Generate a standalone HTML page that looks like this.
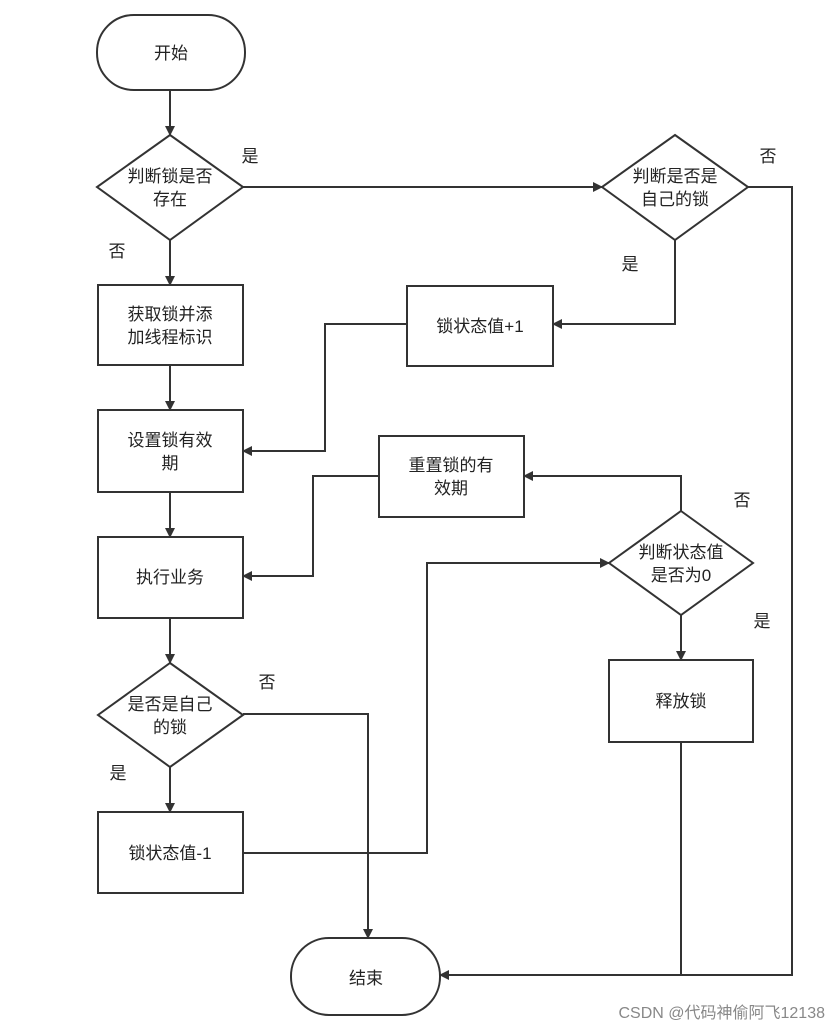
<!DOCTYPE html>
<html><head><meta charset="utf-8"><style>
body{margin:0;background:#fff}
svg text{font-family:"Liberation Sans","Noto Sans CJK SC",sans-serif;font-size:17px;fill:#222}
</style></head><body>
<svg width="840" height="1031" viewBox="0 0 840 1031" xmlns="http://www.w3.org/2000/svg">
<defs><marker id="a" markerWidth="10" markerHeight="10" refX="9" refY="5" orient="auto" markerUnits="userSpaceOnUse"><path d="M0,0 L10,5 L0,10 z" fill="#333"/></marker></defs>
<g fill="#fff" stroke="#333" stroke-width="2">
<rect x="97" y="15" width="148" height="75" rx="37"/>
<rect x="291" y="938" width="149" height="77" rx="38"/>
<polygon points="170,135 243,187 170,240 97,187"/>
<polygon points="675,135 748,187 675,240 602,187"/>
<polygon points="681,511 753,563 681,615 609,563"/>
<polygon points="170,663 243,715 170,767 98,715"/>
<rect x="98" y="285" width="145" height="80"/>
<rect x="407" y="286" width="146" height="80"/>
<rect x="98" y="410" width="145" height="82"/>
<rect x="379" y="436" width="145" height="81"/>
<rect x="98" y="537" width="145" height="81"/>
<rect x="609" y="660" width="144" height="82"/>
<rect x="98" y="812" width="145" height="81"/>
</g>
<g fill="none" stroke="#333" stroke-width="2" marker-end="url(#a)">
<path d="M170,90V135"/>
<path d="M243,187H602"/>
<path d="M748,187H792V975H440"/>
<path d="M675,240V324H553"/>
<path d="M407,324H325V451H243"/>
<path d="M170,240V285"/>
<path d="M170,365V410"/>
<path d="M170,492V537"/>
<path d="M379,476H313V576H243"/>
<path d="M681,511V476H524"/>
<path d="M681,615V660"/>
<path d="M170,618V663"/>
<path d="M243,714H368V938"/>
<path d="M170,767V812"/>
<path d="M243,853H427V563H609"/>
</g>
<path d="M681,742V975" stroke="#333" stroke-width="2" fill="none"/>
<g text-anchor="middle">
<text x="171" y="59">开始</text>
<text x="366" y="984">结束</text>
<text x="170" y="182">判断锁是否</text><text x="170" y="205">存在</text>
<text x="675" y="182">判断是否是</text><text x="675" y="205">自己的锁</text>
<text x="681" y="558">判断状态值</text><text x="681" y="581">是否为0</text>
<text x="170" y="710">是否是自己</text><text x="170" y="733">的锁</text>
<text x="170" y="320">获取锁并添</text><text x="170" y="343">加线程标识</text>
<text x="480" y="332">锁状态值+1</text>
<text x="170" y="446">设置锁有效</text><text x="170" y="469">期</text>
<text x="451" y="471">重置锁的有</text><text x="451" y="494">效期</text>
<text x="170" y="583">执行业务</text>
<text x="681" y="707">释放锁</text>
<text x="170" y="859">锁状态值-1</text>
<text x="250" y="162">是</text><text x="117" y="257">否</text>
<text x="768" y="162">否</text><text x="630" y="270">是</text>
<text x="742" y="506">否</text><text x="762" y="627">是</text>
<text x="267" y="688">否</text><text x="118" y="779">是</text>
</g>
<text x="825" y="1018" text-anchor="end" style="font-size:16px;fill:#888">CSDN @代码神偷阿飞12138</text>
</svg>
</body></html>
